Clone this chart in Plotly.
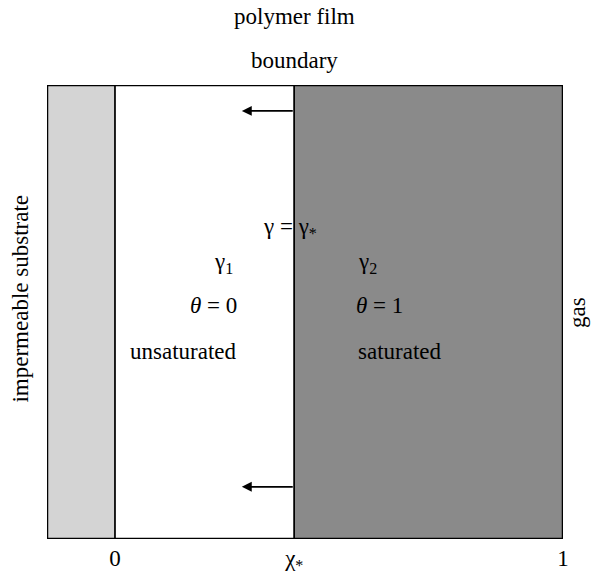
import plotly.graph_objects as go

# Region boundaries along the film coordinate
x_left = -0.152        # outer edge of substrate drawing
x_zero = 0.0           # substrate / film interface
x_star = 0.40          # moving boundary position chi_*
x_one = 1.0            # film / gas interface

tick_vals = [x_zero, x_star, x_one]
tick_text = ["0", "χ<sub>*</sub>", "1"]

arrow_y = [0.943, 0.115]
arrow_tip_x = 0.283

FONT = "Liberation Serif"
FS = 23

fig = go.Figure()

# substrate (light stipple)
fig.add_trace(go.Scatter(x=[x_left, x_zero, x_zero, x_left, x_left], y=[0, 0, 1, 1, 0],
                         fill="toself", mode="lines", line=dict(color="black", width=1.5),
                         fillcolor="#d4d4d4", hoverinfo="skip", showlegend=False))
# unsaturated region
fig.add_trace(go.Scatter(x=[x_zero, x_star, x_star, x_zero, x_zero], y=[0, 0, 1, 1, 0],
                         fill="toself", mode="lines", line=dict(color="black", width=1.5),
                         fillcolor="white", hoverinfo="skip", showlegend=False))
# saturated region (dark stipple)
fig.add_trace(go.Scatter(x=[x_star, x_one, x_one, x_star, x_star], y=[0, 0, 1, 1, 0],
                         fill="toself", mode="lines", line=dict(color="black", width=1.5),
                         fillcolor="#8a8a8a", hoverinfo="skip", showlegend=False))

# outer frame
fig.add_shape(type="rect", xref="x", yref="y", x0=x_left, x1=x_one, y0=0, y1=1,
              line=dict(color="black", width=2.5))

# arrows indicating boundary motion
for yy in arrow_y:
    fig.add_annotation(x=arrow_tip_x, y=yy, ax=x_star, ay=yy, xref="x", yref="y",
                       axref="x", ayref="y", showarrow=True, arrowhead=2, arrowsize=1.1,
                       arrowwidth=1.8, arrowcolor="black", text="")

labels = [
    (0.39, 0.685, "γ = γ<sub>*</sub>"),
    (0.241, 0.608, "γ<sub>1</sub>"),
    (0.219, 0.515, "<i>θ</i> = 0"),
    (0.152, 0.412, "unsaturated"),
    (0.5625, 0.608, "γ<sub>2</sub>"),
    (0.59, 0.515, "<i>θ</i> = 1"),
    (0.636, 0.412, "saturated"),
]
for x, y, t in labels:
    fig.add_annotation(x=x, y=y, xref="x", yref="y", text=t, showarrow=False,
                       xanchor="center", yanchor="middle",
                       font=dict(family=FONT, size=FS, color="black"))

fig.add_annotation(x=x_star, y=1.15, xref="x", yref="paper", text="polymer film",
                   xanchor="center", yanchor="middle",
                   showarrow=False, font=dict(family=FONT, size=FS, color="black"))
fig.add_annotation(x=x_star, y=1.055, xref="x", yref="paper", text="boundary",
                   xanchor="center", yanchor="middle",
                   showarrow=False, font=dict(family=FONT, size=FS, color="black"))
fig.add_annotation(x=-0.052, y=0.53, xref="paper", yref="paper", text="impermeable substrate",
                   xanchor="center", yanchor="middle",
                   textangle=-90, showarrow=False, font=dict(family=FONT, size=FS, color="black"))
fig.add_annotation(x=1.027, y=0.5, xref="paper", yref="paper", text="gas",
                   xanchor="center", yanchor="middle",
                   textangle=-90, showarrow=False, font=dict(family=FONT, size=FS, color="black"))

fig.update_xaxes(range=[x_left, x_one], tickvals=tick_vals, ticktext=tick_text,
                 showgrid=False, zeroline=False, showline=False, ticks="",
                 ticklabelstandoff=3, automargin=False,
                 tickfont=dict(family=FONT, size=FS, color="black"), fixedrange=True)
fig.update_yaxes(range=[0, 1], visible=False, showgrid=False, zeroline=False,
                 automargin=False, fixedrange=True)

fig.update_layout(width=595, height=577, margin=dict(l=47, r=32, t=85, b=38),
                  paper_bgcolor="white", plot_bgcolor="white", showlegend=False)

fig.write_html("out.html")
